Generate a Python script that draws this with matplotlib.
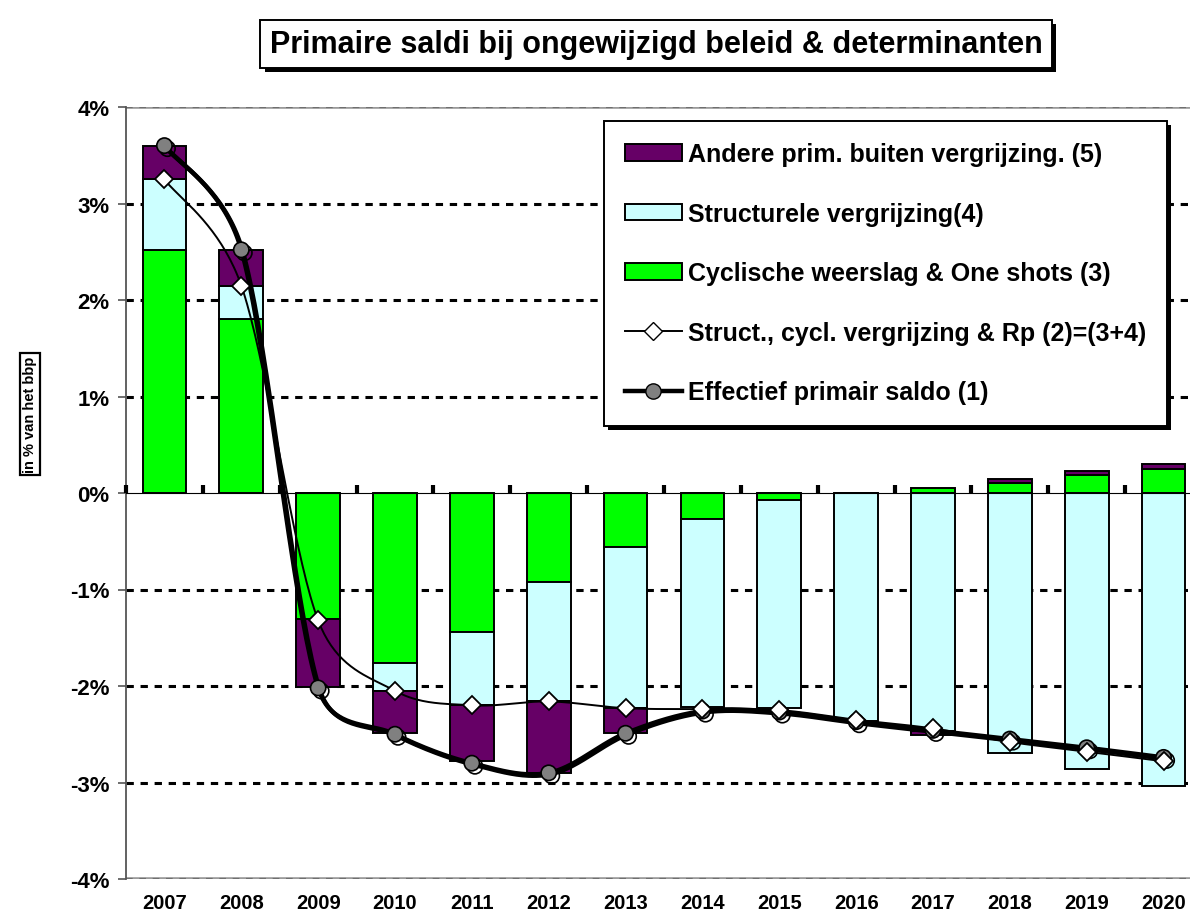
import numpy as np
import matplotlib
matplotlib.use("Agg")
import matplotlib.pyplot as plt
import matplotlib.patheffects as pe
from matplotlib.lines import Line2D
from matplotlib.patches import Patch
from matplotlib.ticker import FuncFormatter, NullFormatter

plt.rcParams['font.family'] = ['Liberation Sans', 'DejaVu Sans']

years = ['2007', '2008', '2009', '2010', '2011', '2012', '2013',
         '2014', '2015', '2016', '2017', '2018', '2019', '2020']
cyclisch = [2.52, 1.80, -1.31, -1.76, -1.44, -0.92, -0.56,
            -0.27, -0.07, 0.00, 0.05, 0.10, 0.19, 0.25]
structureel = [0.73, 0.34, 0.00, -0.29, -0.76, -1.24, -1.67,
               -1.95, -2.16, -2.36, -2.47, -2.69, -2.86, -3.04]
andere = [0.35, 0.38, -0.70, -0.44, -0.58, -0.74, -0.26,
          0.00, 0.00, 0.00, -0.04, 0.04, 0.04, 0.05]
struct_line = [3.25, 2.15, -1.32, -2.05, -2.20, -2.16, -2.23,
               -2.24, -2.25, -2.35, -2.44, -2.58, -2.68, -2.78]
effectief = [3.60, 2.52, -2.02, -2.50, -2.80, -2.90, -2.49,
             -2.26, -2.27, -2.37, -2.46, -2.55, -2.64, -2.74]
yticks = [-4, -3, -2, -1, 0, 1, 2, 3, 4]

lab5 = 'Andere prim. buiten vergrijzing. (5)'
lab4 = 'Structurele vergrijzing(4)'
lab3 = 'Cyclische weerslag & One shots (3)'
lab2 = 'Struct., cycl. vergrijzing & Rp (2)=(3+4)'
lab1 = 'Effectief primair saldo (1)'

c_purple = '#660066'
c_cyan = '#CCFFFF'
c_green = '#00FF00'

W, H = 1190, 920
AX_L, AX_R, AX_T, AX_B = 126, 1202, 108, 880
NCAT = len(years)
SX = (AX_R - AX_L) / NCAT          # px per category
SY = (AX_B - AX_T) / 8.0           # px per percent


def smooth(xs, ys, n=40, tension=1 / 6):
    """Excel-like smoothed line: Bezier segments, control arms limited to half a segment."""
    P = np.column_stack([np.asarray(xs, float) * SX, np.asarray(ys, float) * SY])
    out = []
    for i in range(len(P) - 1):
        p0 = P[i - 1] if i > 0 else P[i]
        p1 = P[i]
        p2 = P[i + 1]
        p3 = P[i + 2] if i + 2 < len(P) else P[i + 1]
        d12 = np.linalg.norm(p2 - p1)
        d02 = np.linalg.norm(p2 - p0)
        d13 = np.linalg.norm(p3 - p1)
        f1 = tension
        if d02 > 0 and f1 * d02 > d12 / 2:
            f1 = d12 / (2 * d02)
        f2 = tension
        if d13 > 0 and f2 * d13 > d12 / 2:
            f2 = d12 / (2 * d13)
        b1 = p1 + f1 * (p2 - p0)
        b2 = p2 - f2 * (p3 - p1)
        t = np.linspace(0, 1, n)[:, None]
        seg = ((1 - t) ** 3) * p1 + 3 * ((1 - t) ** 2) * t * b1 + 3 * (1 - t) * t ** 2 * b2 + t ** 3 * p2
        out.append(seg if i == 0 else seg[1:])
    S = np.vstack(out)
    return S[:, 0] / SX, S[:, 1] / SY


fig = plt.figure(figsize=(W / 100, H / 100), dpi=100)
ax = fig.add_axes([AX_L / W, 1 - AX_B / H, (AX_R - AX_L) / W, (AX_B - AX_T) / H])

x = np.arange(NCAT)
ax.set_xlim(-0.5, NCAT - 0.5)
ax.set_ylim(-4, 4)

# gridlines
for v in yticks:
    if v in (-4, 0, 4):
        continue
    ax.axhline(v, color='black', lw=2.2, ls=(0, (2.4, 2.2)), zorder=1)
for v in (-4, 4):
    ax.axhline(v, color='#9a9a9a', lw=2.6, zorder=1)
    ax.axhline(v, color='#6f6f6f', lw=1.6, ls=(0, (3, 3)), zorder=1.1)

# stacked bars (positives and negatives stacked separately)
pos_base = np.zeros(NCAT)
neg_base = np.zeros(NCAT)
bw = 0.57
for vals, col in ((cyclisch, c_green), (structureel, c_cyan), (andere, c_purple)):
    v = np.asarray(vals)
    base = np.where(v >= 0, pos_base, neg_base)
    ax.bar(x, v, bw, bottom=base, color=col, edgecolor='black', linewidth=1.4, zorder=2)
    pos_base = pos_base + np.where(v > 0, v, 0)
    neg_base = neg_base + np.where(v < 0, v, 0)

shadow = [pe.SimpleLineShadow(offset=(2.2, -2.2), shadow_color='black', alpha=1.0), pe.Normal()]

sx, sy = smooth(x, effectief)
ax.plot(sx, sy, color='black', lw=3.2, zorder=4, solid_capstyle='round',
        path_effects=[pe.SimpleLineShadow(offset=(1.0, -1.0), shadow_color='black', alpha=1.0), pe.Normal()])
ax.plot(x, effectief, ls='none', marker='o', ms=11, mfc='#808080', mec='black', mew=1.2,
        zorder=5, path_effects=shadow)

sx2, sy2 = smooth(x, struct_line)
ax.plot(sx2, sy2, color='black', lw=1.4, zorder=6)
ax.plot(x, struct_line, ls='none', marker='D', ms=9, mfc='white', mec='black', mew=1.3, zorder=7)

# axes styling
for s in ('top', 'right', 'bottom'):
    ax.spines[s].set_visible(False)
ax.spines['left'].set_color('#555555')
ax.spines['left'].set_linewidth(1.3)
ax.set_yticks(yticks)
ax.yaxis.set_major_formatter(FuncFormatter(lambda v, p: f'{int(round(v))}%'))
ax.tick_params(axis='y', direction='out', length=6, width=1.2, color='#555555',
               labelsize=16, pad=6)
for t in ax.get_yticklabels():
    t.set_fontweight('bold')
ax.set_xticks(x)
ax.set_xticklabels(years, fontsize=14.5, fontweight='bold')
ax.tick_params(axis='x', length=0, pad=10)

# zero line with boundary ticks
sec = ax.secondary_xaxis(0.5)
sec.spines['bottom'].set_linewidth(3.5)
sec.spines['bottom'].set_color('black')
sec.set_xticks(np.arange(NCAT + 1) - 0.5)
sec.xaxis.set_major_formatter(NullFormatter())
sec.tick_params(axis='x', direction='out', length=6, width=3, color='black',
                labelbottom=False, labeltop=False)
sec.set_zorder(3)

# y label
fig.text(30 / W, 1 - 415 / H, 'in % van het bbp', rotation=90, ha='center', va='center',
         fontsize=10.5, fontweight='bold',
         bbox=dict(boxstyle='square,pad=0.22', fc='white', ec='black', lw=1.6))

# title
tt = fig.text(656 / W, 1 - 45 / H, 'Primaire saldi bij ongewijzigd beleid & determinanten',
              ha='center', va='center', fontsize=22, fontweight='bold',
              bbox=dict(boxstyle='square,pad=0.3', fc='white', ec='black', lw=1.4))
tt.get_bbox_patch().set_path_effects([pe.withSimplePatchShadow(offset=(3, -3), shadow_rgbFace='black', alpha=1.0)])

# legend
handles = [
    Patch(facecolor=c_purple, edgecolor='black', linewidth=1.4),
    Patch(facecolor=c_cyan, edgecolor='black', linewidth=1.4),
    Patch(facecolor=c_green, edgecolor='black', linewidth=1.4),
    Line2D([], [], color='black', lw=1.4, marker='D', ms=9, mfc='white', mec='black'),
    Line2D([], [], color='black', lw=3.2, marker='o', ms=11, mfc='#808080', mec='black'),
]
leg = ax.legend(handles, [lab5, lab4, lab3, lab2, lab1],
                loc='upper left', bbox_to_anchor=(604 / W, 1 - 122 / H),
                bbox_transform=fig.transFigure,
                prop=dict(size=18, weight='bold'), frameon=True, fancybox=False,
                edgecolor='black', framealpha=1, handlelength=2.25, handleheight=0.65,
                handletextpad=0.25, labelspacing=1.42, borderpad=0.85, borderaxespad=0)
leg.get_frame().set_linewidth(1.4)
leg.get_frame().set_path_effects([pe.withSimplePatchShadow(offset=(3, -3), shadow_rgbFace='black', alpha=1.0)])
leg.set_zorder(10)

fig.savefig('out.png', dpi=100)
